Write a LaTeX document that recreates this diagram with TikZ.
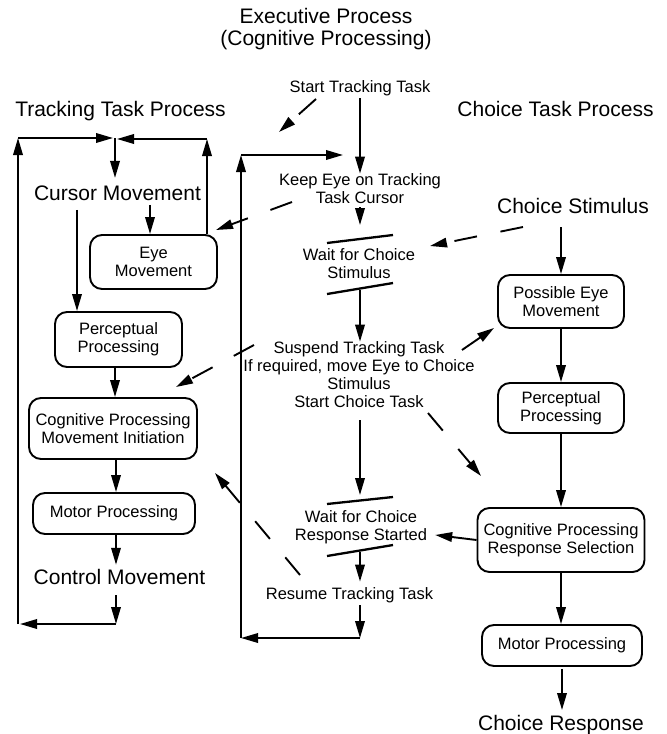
\documentclass[tikz,border=0pt]{standalone}
\usepackage{fontspec}
\setmainfont{Liberation Sans}
\usetikzlibrary{arrows.meta}

\begin{document}
\begin{tikzpicture}[x=1pt,y=-1pt,
  big/.style={font=\fontsize{21}{22}\selectfont, inner sep=0pt, align=center},
  small/.style={font=\fontsize{16.5}{18}\selectfont, inner sep=0pt, align=center},
  box/.style={small, draw, line width=1.9pt, rounded corners=12pt},
  arr/.style={line width=1.9pt, -{Triangle[length=17pt,width=9.5pt]}},
  darr/.style={arr, dash pattern=on 23pt off 24pt},
  bar/.style={line width=2.3pt},
]
\useasboundingbox (0,0) rectangle (667,734);

% headings
\node[big] (exec) at (326,29.5) {Executive Process\\(Cognitive Processing)};
\node[big] (ttp) at (120.5,111) {Tracking Task Process};
\node[big] (ctp) at (555.5,109) {Choice Task Process};

% tracking task process
\node[big] (cursor) at (117.5,193) {Cursor Movement};
\node[box, minimum width=127pt, minimum height=54pt] (eyeL) at (153.5,262) {Eye\\Movement};
\node[box, minimum width=127pt, minimum height=55pt] (percL) at (118.5,339.5) {Perceptual\\Processing};
\node[box, minimum width=168pt, minimum height=61pt] (cogL) at (113,428.5) {Cognitive Processing\\Movement Initiation};
\node[box, minimum width=162pt, minimum height=41pt] (motL) at (114,513.5) {Motor Processing};
\node[big] (control) at (119.5,577) {Control Movement};

% executive process
\node[small] (start) at (360,88.5) {Start Tracking Task};
\node[small] (keep) at (360,188.9) {Keep Eye on Tracking\\Task Cursor};
\node[small] (wait1) at (359,263.9) {Wait for Choice\\Stimulus};
\node[small] (susp) at (359,374.9) {Suspend Tracking Task\\If required, move Eye to Choice\\Stimulus\\Start Choice Task};
\node[small] (wait2) at (361,527.5) {Wait for Choice\\Response Started};
\node[small] (resume) at (349.5,595.5) {Resume Tracking Task};

% choice task process
\node[big] (stim) at (573,206) {Choice Stimulus};
\node[box, minimum width=126pt, minimum height=53pt] (posR) at (561,301.5) {Possible Eye\\Movement};
\node[box, minimum width=126pt, minimum height=50pt] (percR) at (561,408) {Perceptual\\Processing};
\node[box, minimum width=167pt, minimum height=64pt] (cogR) at (561,540) {Cognitive Processing\\Response Selection};
\node[box, minimum width=160pt, minimum height=41pt] (motR) at (562,645.5) {Motor Processing};
\node[big] (resp) at (561,725) {Choice Response};

% corner points of the tracking loop
\coordinate (LJ) at (115,138);
\coordinate (RT) at (207,139);
\coordinate (LT) at (18,138);
\coordinate (LL) at (18,624);
\coordinate (LB) at (116,624);

% corner points of the executive loop
\coordinate (MB) at (360,638);
\coordinate (ML) at (241,638);
\coordinate (MT) at (241,155);
\coordinate (t1) at (360,225);
\coordinate (s2) at (360,290);
\coordinate (t3) at (360,495);
\coordinate (s4) at (360,552);

% tracking task flow
\draw[arr] (LL) -- (LT);
\draw[arr, shorten >=2pt] (LT) -- (LJ);
\draw[arr] (eyeL.north -| RT) -- (RT);
\draw[arr, shorten >=2pt] (RT) -- (RT -| LJ);
\draw[arr, shorten >=7.4pt] (LJ) -- (LJ |- cursor.north);
\draw[arr, shorten <=4.3pt] ([xshift=-3.5pt]eyeL.north |- cursor.south) -- ([xshift=-3.5pt]eyeL.north);
\draw[arr, shorten <=9.3pt] ([xshift=-41.5pt]percL.north |- cursor.south) -- ([xshift=-41.5pt]percL.north);
\draw[arr] (percL.south -| LJ) -- (cogL.north -| LJ);
\draw[arr] (cogL.south -| LB) -- (motL.north -| LB);
\draw[arr, shorten >=4.3pt] (motL.south -| LB) -- (control.north -| LB);
\draw[arr, shorten <=10.3pt] (control.south -| LB) -- (LB);
\draw[arr, shorten >=2pt] (LB) -- (LL);

% executive flow
\draw[arr, shorten <=2pt] (start.south -| MB) -- (MB |- keep.north);
\draw[arr, shorten <=3.3pt] (keep.south -| MB) -- (t1);
\draw[arr] (s2) -- (MB |- susp.north);
\draw[arr, shorten <=12.3pt] (susp.south -| MB) -- (t3);
\draw[arr, shorten >=6pt] (s4) -- (MB |- resume.north);
\draw[arr, shorten <=2pt] (resume.south -| MB) -- (MB);
\draw[arr] (MB) -- (ML);
\draw[arr] (ML) -- (MT);
\draw[arr, shorten >=17pt] (MT) -- (MT -| MB);

% wait bars
\draw[bar] (327,243) -- (393,235);
\draw[bar] (327,294) -- (393,283);
\draw[bar] (327,504) -- (393,497);
\draw[bar] (327,556) -- (393,545);

% choice task flow
\draw[arr, shorten <=13.3pt] (posR.north |- stim.south) -- (posR.north);
\draw[arr] (posR.south) -- (percR.north);
\draw[arr] (percR.south) -- (percR.south |- cogR.north);
\draw[arr] (cogR.south) -- (cogR.south |- motR.north);
\draw[arr, shorten <=2pt, shorten >=5pt] (motR.south) -- (motR.south |- resp.north);
\draw[arr, shorten >=8pt] (cogR.west) -- ([yshift=-6.5pt]wait2.east);

% executive control signals
\coordinate (d1s) at (316,99);  \coordinate (d1e) at (279,132);
\coordinate (d2s) at (292,202); \coordinate (d2e) at (216,230);
\coordinate (d3s) at (523,227); \coordinate (d3e) at (430,246);
\coordinate (d4s) at (462,350); \coordinate (d4e) at (494,328);
\coordinate (d5s) at (254,345); \coordinate (d5e) at (176,387);
\coordinate (d6s) at (428,413); \coordinate (d6e) at (481,476);
\coordinate (d7s) at (300,575); \coordinate (d7e) at (215,473);
\draw[darr] (d1s) -- (d1e);
\draw[darr] (d2s) -- (d2e);
\draw[darr] (d3s) -- (d3e);
\draw[darr] (d4s) -- (d4e);
\draw[darr] (d5s) -- (d5e);
\draw[darr] (d6s) -- (d6e);
\draw[darr] (d7s) -- (d7e);
\end{tikzpicture}
\end{document}
